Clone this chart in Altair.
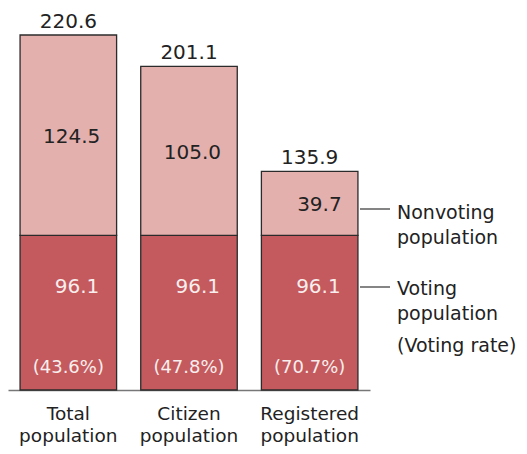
import altair as alt
import pandas as pd

categories = ["Total population", "Citizen population", "Registered population"]
voting = [96.1, 96.1, 96.1]
nonvoting = [124.5, 105.0, 39.7]
totals = [220.6, 201.1, 135.9]
rates = ["(43.6%)", "(47.8%)", "(70.7%)"]

FONT = "DejaVu Sans"
VOTE_COL = "#c45a5d"
NONVOTE_COL = "#e4b0ae"

rows = []
for c, v, n in zip(categories, voting, nonvoting):
    rows.append({"category": c, "segment": "Voting", "value": v, "order": 0})
    rows.append({"category": c, "segment": "Nonvoting", "value": n, "order": 1})
df_long = pd.DataFrame(rows)

df_wide = pd.DataFrame({
    "category": categories,
    "voting": voting,
    "nonvoting": nonvoting,
    "total": totals,
    "rate": rates,
})
df_wide["nv_mid"] = df_wide["voting"] + df_wide["nonvoting"] / 2
df_wide["zero"] = 0.0
df_wide["nv_txt"] = df_wide["nonvoting"].map(lambda v: f"{v:.1f}")
df_wide["v_txt"] = df_wide["voting"].map(lambda v: f"{v:.1f}")
df_wide["t_txt"] = df_wide["total"].map(lambda v: f"{v:.1f}")

x_enc = alt.X(
    "category:N",
    sort=categories,
    scale=alt.Scale(paddingInner=0.2, paddingOuter=0.1),
    axis=alt.Axis(
        title=None, ticks=False, domain=True, domainColor="#777777", domainWidth=1.5,
        labelAngle=0, labelExpr="split(datum.label, ' ')", labelFont=FONT,
        labelFontSize=18.5, labelColor="#222222", labelPadding=14, labelLineHeight=22,
        labelBaseline="top",
    ),
)
y_scale = alt.Scale(domain=[0, 220.6], nice=False, zero=True)

bars = alt.Chart(df_long).mark_bar(stroke="#2b2b2b", strokeWidth=1.3).encode(
    x=x_enc,
    y=alt.Y("value:Q", stack="zero", scale=y_scale, axis=None),
    color=alt.Color("segment:N", scale=alt.Scale(domain=["Voting", "Nonvoting"],
                                                 range=[VOTE_COL, NONVOTE_COL]), legend=None),
    order=alt.Order("order:Q"),
)

base = alt.Chart(df_wide)

total_txt = base.mark_text(font=FONT, fontSize=20, color="#222222", baseline="alphabetic", dy=-7).encode(
    x=alt.X("category:N", sort=categories), y=alt.Y("total:Q", scale=y_scale), text="t_txt:N")

nv_txt = base.mark_text(font=FONT, fontSize=20, color="#222222", baseline="middle", align="right", dx=32, dy=2).encode(
    x=alt.X("category:N", sort=categories), y=alt.Y("nv_mid:Q", scale=y_scale), text="nv_txt:N")

v_txt = base.mark_text(font=FONT, fontSize=20, color="#f8eeee", baseline="middle", align="right", dx=31, dy=52).encode(
    x=alt.X("category:N", sort=categories), y=alt.Y("voting:Q", scale=y_scale), text="v_txt:N")

r_txt = base.mark_text(font=FONT, fontSize=18, color="#f8eeee", baseline="middle", dy=-22).encode(
    x=alt.X("category:N", sort=categories), y=alt.Y("zero:Q", scale=y_scale), text="rate:N")

# annotations on the right
ann_lines_y = [174, 252]
ann_text = ["Nonvoting", "population", "Voting", "population", "(Voting rate)"]
ann_text_y = [184, 209, 260, 285, 317]

lines = alt.layer(*[
    alt.Chart(pd.DataFrame({"a": [0]})).mark_rule(color="#333333", strokeWidth=1.2).encode(
        x=alt.value(352), x2=alt.value(382), y=alt.value(yy))
    for yy in ann_lines_y
])
texts = alt.layer(*[
    alt.Chart(pd.DataFrame({"t": [t]})).mark_text(font=FONT, fontSize=19, color="#222222",
                                                  align="left", baseline="alphabetic").encode(
        x=alt.value(389), y=alt.value(yy), text="t:N")
    for t, yy in zip(ann_text, ann_text_y)
])

chart = alt.layer(bars, total_txt, nv_txt, v_txt, r_txt, lines, texts).properties(
    width=362, height=355,
    autosize="none",
    padding={"left": 0, "top": 27, "right": 149, "bottom": 56},
).configure_view(stroke=None)

chart.save("out.html", embed_options={"renderer": "svg", "actions": False})
